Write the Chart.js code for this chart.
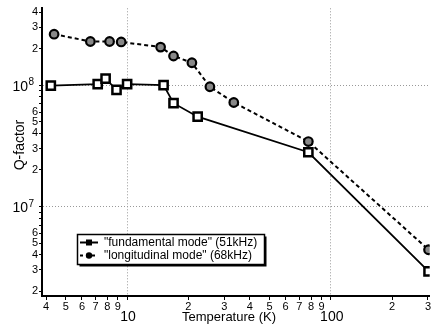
<!DOCTYPE html>
<html>
<head>
<meta charset="utf-8">
<script src="https://cdn.jsdelivr.net/npm/chart.js@4.4.1/dist/chart.umd.min.js"></script>
<style>
  html, body { margin: 0; padding: 0; background: #fff; }
  #wrap { width: 438px; height: 329px; }
</style>
</head>
<body>
<div id="wrap"><canvas id="qChart" width="438" height="329"></canvas></div>
<script>
// Q-factor vs temperature
const fundamentalT = [4.22, 7.17, 7.84, 8.87, 10.0, 15.1, 16.9, 22.2, 77.6, 302];
const fundamentalQ = [0.99e8, 1.02e8, 1.13e8, 0.915e8, 1.02e8, 1.0e8, 0.71e8, 0.55e8, 2.8e7, 2.92e6];
const longitudinalT = [4.38, 6.6, 8.2, 9.35, 14.6, 16.9, 20.8, 25.5, 33.4, 77.6, 302];
const longitudinalQ = [2.63e8, 2.29e8, 2.29e8, 2.27e8, 2.06e8, 1.74e8, 1.53e8, 0.97e8, 0.72e8, 3.43e7, 4.4e6];

const seriesLabels = ['"fundamental mode" (51kHz)', '"longitudinal mode" (68kHz)'];

const xTicks = [4, 5, 6, 7, 8, 9, 10, 20, 30, 40, 50, 60, 70, 80, 90, 100, 200, 300];
const yTicks = [2e6, 3e6, 4e6, 5e6, 6e6, 7e6, 8e6, 9e6, 1e7, 2e7, 3e7, 4e7, 5e7, 6e7, 7e7, 8e7, 9e7, 1e8, 2e8, 3e8, 4e8];
const xMajor = [10, 100];
const yMajor = [1e7, 1e8];

const FONT = '"Liberation Sans", Arial, sans-serif';

function mantissa(v) {
  return Math.round(v / Math.pow(10, Math.floor(Math.log10(v) + 1e-9)));
}

function toPoints(xs, ys) {
  return xs.map((x, i) => ({ x: x, y: ys[i] }));
}

function isMajor(ctx, list) {
  return ctx.tick && list.includes(ctx.tick.value);
}

// major labels, axis titles and the boxed legend
const decor = {
  id: 'decor',
  afterDraw(chart) {
    const ctx = chart.ctx;
    const xs = chart.scales.x;
    const ys = chart.scales.y;
    ctx.save();
    ctx.fillStyle = '#000';

    ctx.font = '14px ' + FONT;
    ctx.textAlign = 'center';
    ctx.textBaseline = 'middle';
    xMajor.forEach(v => ctx.fillText(String(v), xs.getPixelForValue(v) + 1, 317));

    yMajor.forEach(v => {
      const py = ys.getPixelForValue(v);
      ctx.font = '14px ' + FONT;
      ctx.textAlign = 'right';
      ctx.textBaseline = 'alphabetic';
      ctx.fillText('10', 28, py + 5.5);
      ctx.font = '10px ' + FONT;
      ctx.textAlign = 'left';
      ctx.fillText(String(Math.round(Math.log10(v))), 28.5, py);
    });

    ctx.font = '13px ' + FONT;
    ctx.textAlign = 'center';
    ctx.textBaseline = 'middle';
    ctx.fillText('Temperature (K)', 229, 317);

    ctx.save();
    ctx.translate(20, 145);
    ctx.rotate(-Math.PI / 2);
    ctx.font = '14px ' + FONT;
    ctx.fillText('Q-factor', 0, 0);
    ctx.restore();

    // legend box with drop shadow
    const bx = 77.5, by = 234.5, bw = 187, bh = 30;
    ctx.fillStyle = '#000';
    ctx.fillRect(bx + 2, by + 2, bw, bh);
    ctx.fillStyle = '#fff';
    ctx.fillRect(bx, by, bw, bh);
    ctx.strokeStyle = '#000';
    ctx.lineWidth = 1.5;
    ctx.strokeRect(bx, by, bw, bh);

    const rows = [242.5, 255.5];
    chart.data.datasets.forEach((ds, i) => {
      const ry = rows[i];
      ctx.strokeStyle = '#000';
      ctx.lineWidth = 2;
      ctx.setLineDash(i === 0 ? [] : [3, 3]);
      ctx.beginPath();
      ctx.moveTo(80, ry);
      ctx.lineTo(98, ry);
      ctx.stroke();
      ctx.setLineDash([]);
      ctx.fillStyle = '#000';
      if (i === 0) {
        ctx.fillRect(86, ry - 3, 6, 6);
      } else {
        ctx.beginPath();
        ctx.arc(89, ry, 3.2, 0, Math.PI * 2);
        ctx.fill();
      }
      ctx.font = '12px ' + FONT;
      ctx.textAlign = 'left';
      ctx.textBaseline = 'middle';
      ctx.fillText(ds.label, 104, ry);
    });
    ctx.restore();
  }
};

new Chart(document.getElementById('qChart'), {
  type: 'scatter',
  data: {
    datasets: [
      {
        label: seriesLabels[0],
        data: toPoints(fundamentalT, fundamentalQ),
        showLine: true,
        borderColor: '#000',
        borderWidth: 1.8,
        pointStyle: 'rect',
        pointRadius: 5.8,
        pointBorderWidth: 2.5,
        pointBorderColor: '#000',
        pointBackgroundColor: '#fff'
      },
      {
        label: seriesLabels[1],
        data: toPoints(longitudinalT, longitudinalQ),
        showLine: true,
        borderColor: '#000',
        borderWidth: 2,
        borderDash: [4, 3],
        pointStyle: 'circle',
        pointRadius: 4.3,
        pointBorderWidth: 2.2,
        pointBorderColor: '#000',
        pointBackgroundColor: '#888'
      }
    ]
  },
  options: {
    responsive: false,
    animation: false,
    devicePixelRatio: 1,
    layout: { padding: { top: 8, right: 5, left: 0, bottom: 0 } },
    plugins: { legend: { display: false }, tooltip: { enabled: false } },
    scales: {
      x: {
        type: 'logarithmic',
        position: 'bottom',
        min: 3.82,
        max: 306,
        afterBuildTicks: s => { s.ticks = xTicks.map(v => ({ value: v })); },
        afterFit: s => { s.height = 33; },
        ticks: {
          autoSkip: false,
          maxRotation: 0,
          padding: 0,
          color: '#000',
          font: { family: FONT, size: 11 },
          callback: v => xMajor.includes(v) ? '' : String(mantissa(v))
        },
        grid: {
          color: ctx => isMajor(ctx, xMajor) ? '#999' : 'rgba(0,0,0,0)',
          lineWidth: 1,
          tickColor: '#000',
          tickLength: 4
        },
        border: { color: '#000', width: 2, dash: ctx => isMajor(ctx, xMajor) ? [1, 2] : [] }
      },
      y: {
        type: 'logarithmic',
        min: 1.83e6,
        max: 4.3e8,
        afterBuildTicks: s => { s.ticks = yTicks.map(v => ({ value: v })); },
        afterFit: s => { s.width = 42; },
        ticks: {
          autoSkip: false,
          padding: 1,
          color: '#000',
          font: { family: FONT, size: 11 },
          callback: v => {
            const m = mantissa(v);
            return (yMajor.includes(v) || m > 6) ? '' : String(m);
          }
        },
        grid: {
          color: ctx => isMajor(ctx, yMajor) ? '#999' : 'rgba(0,0,0,0)',
          lineWidth: 1,
          tickColor: '#000',
          tickLength: 3
        },
        border: { color: '#000', width: 2, dash: ctx => isMajor(ctx, yMajor) ? [1, 2] : [] }
      }
    }
  },
  plugins: [decor]
});
</script>
</body>
</html>
